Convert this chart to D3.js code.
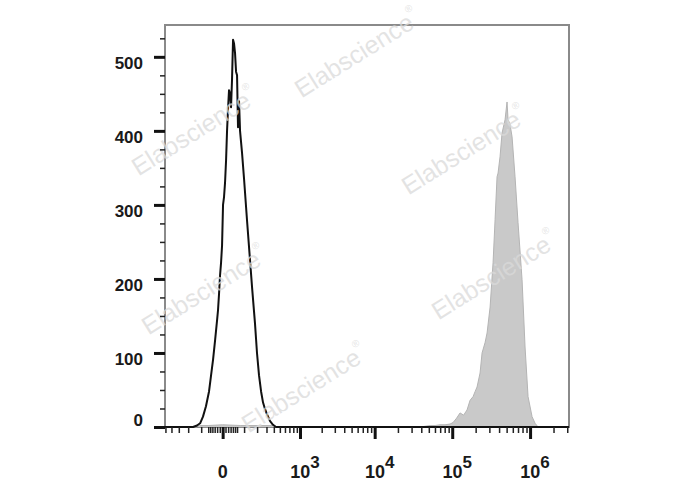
<!DOCTYPE html>
<html>
<head>
<meta charset="utf-8">
<script src="https://cdn.jsdelivr.net/npm/d3@7/dist/d3.min.js"></script>
<style>
  html, body { margin: 0; padding: 0; background: #fff; }
  svg { display: block; }
</style>
</head>
<body>
<svg id="chart" width="688" height="490"></svg>
<script>
// ---- data (fluorescence value, event count) ----
const controlValues = [-508, -158, -128, -107, -89, -72, -56, -46, -37, -28, -20, -16.5, -12.7, -9, -5.4, -2, 1.3, 4.8, 8.3, 12, 15.7, 19.6, 23.5, 27.7, 31.9, 36.2, 40.7, 45.3, 50, 55, 60, 65, 70.5, 76, 87.6, 99.8, 119, 141, 156.5, 181, 199, 218, 239, 260, 283, 307, 346, 388, 435, 3160000];
const controlCounts = [0, 0, 2, 5, 14, 28, 48, 70, 91, 118, 145, 158, 180, 205, 222, 245, 300, 311, 330, 360, 400, 430, 455, 450, 432, 470, 523, 518, 505, 480, 475, 405, 440, 400, 370, 335, 280, 225, 189, 140, 100, 70, 48, 33, 24, 17, 8, 3, 0, 0];

const sampleValues = [-508, -135, -110, -60, 0, 80, 200, 390, 420, 38700, 44800, 51900, 60200, 69800, 80900, 93800, 102500, 114000, 126000, 140000, 155000, 169500, 185200, 197000, 208500, 227900, 241800, 264300, 280500, 306600, 334800, 355200, 376700, 388100, 411400, 436400, 477100, 506000, 521400, 550000, 586900, 641000, 700600, 788700, 861900, 942000, 1060000, 1159000, 1267000, 3160000];
const sampleCounts = [0, 0, 2, 2, 3, 2, 2, 2, 0, 0, 1, 2, 2, 3, 3, 4, 6, 12, 19, 16, 23, 36, 41, 48, 54, 73, 100, 114, 127, 162, 222, 280, 338, 343, 365, 397, 415, 439, 415, 410, 392, 338, 276, 199, 108, 41, 14, 5, 0, 0];

const yTicks = [0, 100, 200, 300, 400, 500];
const yMinorTicks = [25, 50, 75, 125, 150, 175, 225, 250, 275, 325, 350, 375, 425, 450, 475, 525];
const xMajorTicks = [0, 1e3, 1e4, 1e5, 1e6];
const xTickLabels = [
  {v: 0, base: "0", exp: ""},
  {v: 1e3, base: "10", exp: "3"},
  {v: 1e4, base: "10", exp: "4"},
  {v: 1e5, base: "10", exp: "5"},
  {v: 1e6, base: "10", exp: "6"}
];
const xMinorTicks = [-500, -400, -300, -200, -100, -60, -50, -40, -30, -20, -10, 10, 20, 30, 40, 50, 60,
  100, 200, 300, 400, 500, 600, 700, 800, 900,
  2e3, 3e3, 4e3, 5e3, 6e3, 7e3, 8e3, 9e3,
  2e4, 3e4, 4e4, 5e4, 6e4, 7e4, 8e4, 9e4,
  2e5, 3e5, 4e5, 5e5, 6e5, 7e5, 8e5, 9e5,
  2e6, 3e6];
const watermarkText = "Elabscience";

// ---- layout ----
const L = 165, R = 569, T = 25, B = 427;
const svg = d3.select("#chart");

const x = d3.scaleSymlog().constant(113).domain([-508, 3160000]).range([L, R]);
const y = d3.scaleLinear().domain([0, 543]).range([B, T]);

// frame
svg.append("rect")
  .attr("x", L).attr("y", T).attr("width", R - L).attr("height", B - T)
  .attr("fill", "none").attr("stroke", "#8a8a8a").attr("stroke-width", 2);

// sample (filled grey)
const sample = sampleValues.map((v, i) => ({v, c: sampleCounts[i]}));
svg.append("path")
  .datum(sample)
  .attr("d", d3.area().x(d => x(d.v)).y0(y(0)).y1(d => y(d.c)))
  .attr("fill", "#c9c9c9")
  .attr("stroke", "none");
svg.append("path")
  .datum(sample)
  .attr("d", d3.line().x(d => x(d.v)).y(d => y(d.c)))
  .attr("fill", "none")
  .attr("stroke", "#b4b4b4")
  .attr("stroke-width", 1);

// control (black outline)
const control = controlValues.map((v, i) => ({v, c: controlCounts[i]}));
svg.append("path")
  .datum(control)
  .attr("d", d3.line().x(d => x(d.v)).y(d => y(d.c)))
  .attr("fill", "none")
  .attr("stroke", "#111")
  .attr("stroke-width", 2)
  .attr("stroke-linejoin", "round");

// watermarks
const wm = [[195, 133], [358, 55], [465, 152], [205, 292], [495, 277], [305, 390]];
wm.forEach(([cx, cy]) => {
  const t = svg.append("text")
    .attr("transform", `translate(${cx},${cy}) rotate(-32)`)
    .attr("text-anchor", "middle")
    .attr("dominant-baseline", "middle")
    .attr("font-family", "Liberation Sans, Arial, sans-serif")
    .attr("font-size", 25)
    .attr("fill", "#dadada")
    .attr("fill-opacity", 0.75);
  t.append("tspan").text(watermarkText);
  t.append("tspan").attr("font-size", 10).attr("dy", -12).text("®");
});

// y axis
const yMinor = svg.append("g").attr("transform", `translate(${L},0)`)
  .call(d3.axisLeft(y).tickValues(yMinorTicks).tickSize(5).tickFormat(""));
yMinor.select(".domain").remove();
yMinor.selectAll("line").attr("stroke", "#222").attr("stroke-width", 1.5);

const yMajor = svg.append("g").attr("transform", `translate(${L},0)`)
  .call(d3.axisLeft(y).tickValues(yTicks).tickSize(11).tickFormat(""));
yMajor.select(".domain").remove();
yMajor.selectAll("line").attr("stroke", "#111").attr("stroke-width", 3);

svg.append("g").selectAll("text").data(yTicks).join("text")
  .attr("x", L - 22)
  .attr("y", d => d === 0 ? y(d) - 1 : y(d) + 12.5)
  .attr("text-anchor", "end")
  .attr("font-family", "Liberation Sans, Arial, sans-serif")
  .attr("font-size", 17)
  .attr("font-weight", "bold")
  .attr("fill", "#1a1a1a")
  .text(d => d);

// x axis
const xMinor = svg.append("g").attr("transform", `translate(0,${B})`)
  .call(d3.axisBottom(x).tickValues(xMinorTicks).tickSize(6).tickFormat(""));
xMinor.select(".domain").remove();
xMinor.selectAll("line").attr("stroke", "#222").attr("stroke-width", 1.5);

const xMajor = svg.append("g").attr("transform", `translate(0,${B})`)
  .call(d3.axisBottom(x).tickValues(xMajorTicks).tickSize(12).tickFormat(""));
xMajor.select(".domain").remove();
xMajor.selectAll("line").attr("stroke", "#111").attr("stroke-width", 3);

const xl = svg.append("g").selectAll("text").data(xTickLabels).join("text")
  .attr("x", d => x(d.v) + (d.exp ? 5 : 0))
  .attr("y", 478)
  .attr("text-anchor", "middle")
  .attr("font-family", "Liberation Sans, Arial, sans-serif")
  .attr("font-size", 18)
  .attr("font-weight", "bold")
  .attr("fill", "#1a1a1a");
xl.append("tspan").text(d => d.base);
xl.append("tspan").attr("dy", -10).attr("font-size", 17).text(d => d.exp);
</script>
</body>
</html>
